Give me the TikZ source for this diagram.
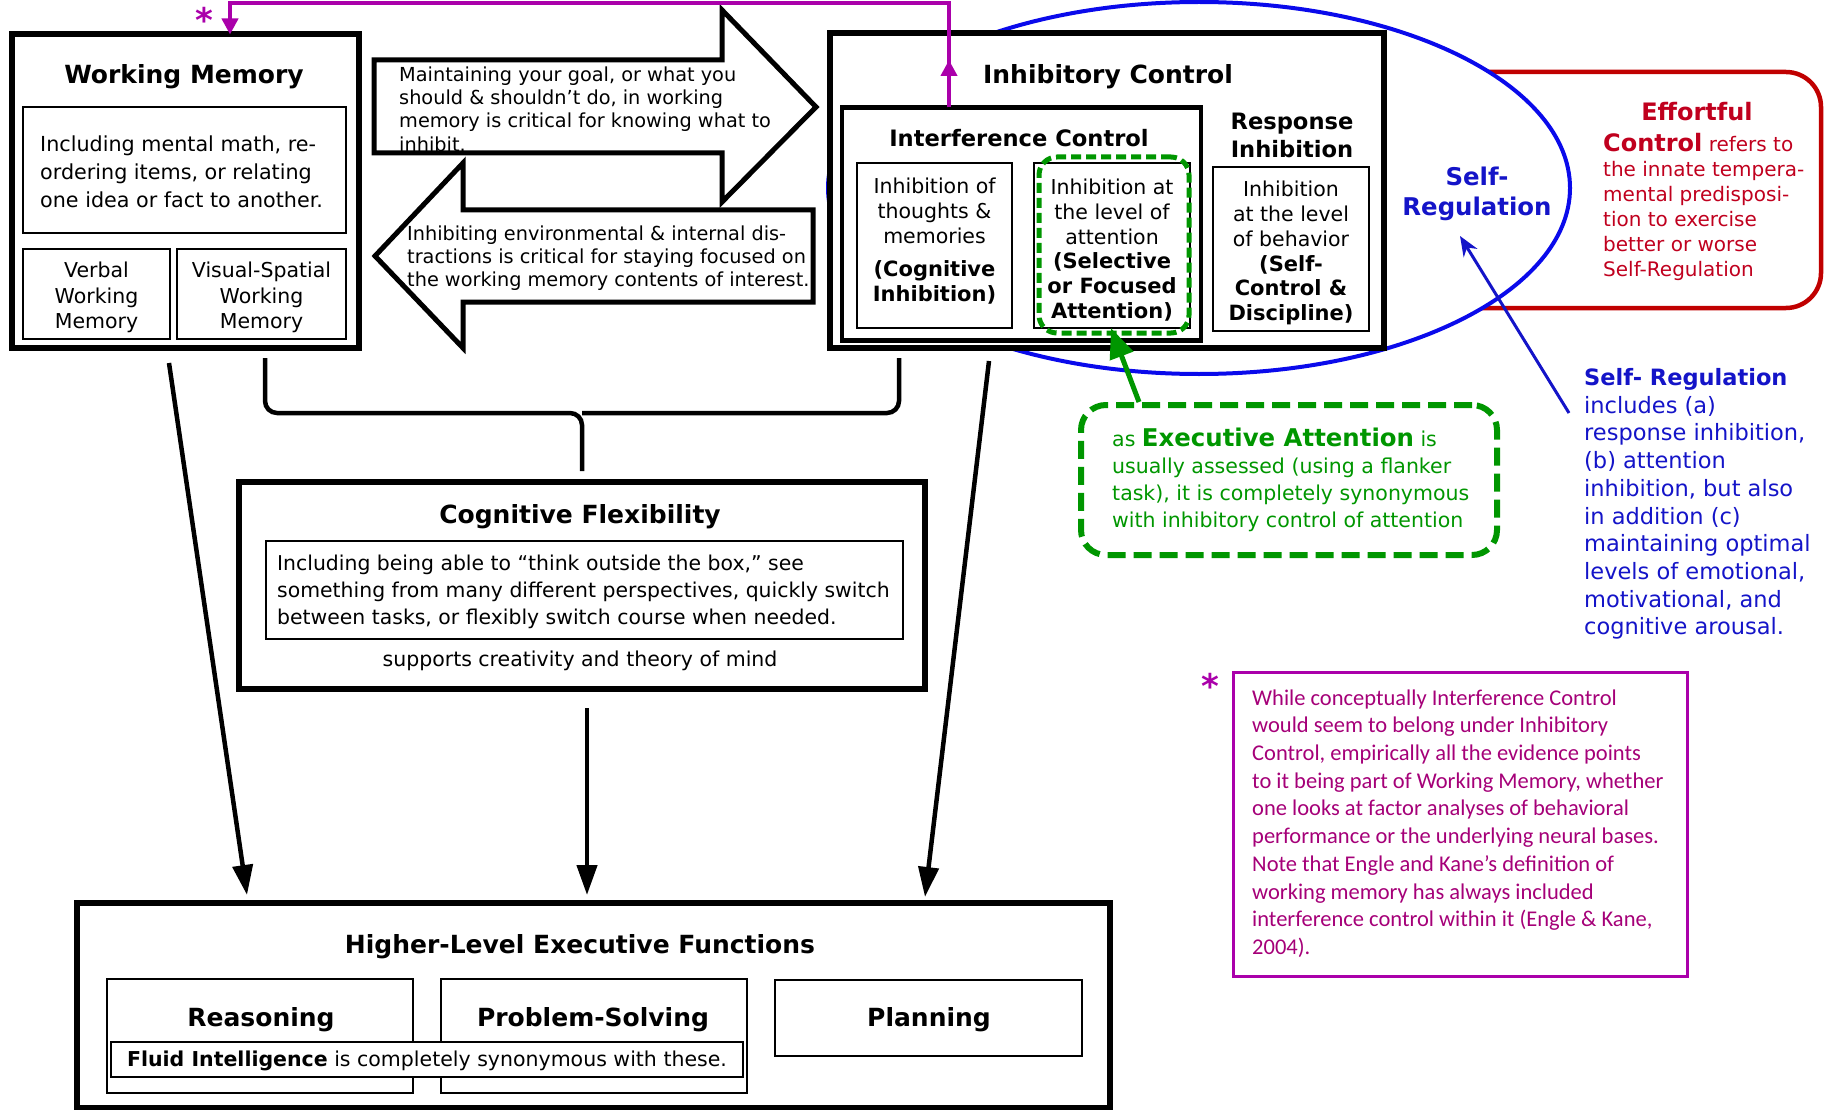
\documentclass[tikz,border=0pt]{standalone}
\usepackage{fontspec}
\setmainfont{DejaVu Sans}
\newfontfamily\calibfont{Carlito}
\usetikzlibrary{shapes.geometric,arrows.meta}
\definecolor{magline}{RGB}{170,0,170}
\definecolor{magtext}{RGB}{165,0,120}
\definecolor{effred}{RGB}{192,0,0}
\definecolor{efftext}{RGB}{192,0,30}
\definecolor{srblue}{RGB}{10,10,235}
\definecolor{srtext}{RGB}{20,20,200}
\definecolor{eagreen}{RGB}{0,150,0}
\newcommand\fsz[2]{\fontsize{#1pt}{#2pt}\selectfont}
\begin{document}
\begin{tikzpicture}[x=1pt,y=-1pt,
  bigbox/.style={draw, line width=6, fill=white, inner sep=0, outer sep=0},
  midbox/.style={draw, line width=4.5, fill=white, inner sep=0, outer sep=0},
  thinbox/.style={draw, line width=2, fill=white, inner sep=0, outer sep=0},
  ttl/.style={font=\bfseries\fsz{25}{30}, inner sep=0},
  subttl/.style={font=\bfseries\fsz{22.6}{28}, inner sep=0},
  txt/.style={font=\fsz{20.5}{25}, inner sep=0},
  blockarrow/.style={draw, line width=5, fill=white, line join=miter},
  conn/.style={draw, line width=4.5, -{Triangle[length=30,width=20]}},
]
\useasboundingbox (0,0) rectangle (1825,1110);

% Effortful Control box (behind ellipse)
\node[draw=effred, line width=4.5, rounded corners=35, minimum width=420, minimum height=236, inner sep=0] (efc) at (1611,190) {};
% Self-Regulation ellipse
\node[ellipse, draw=srblue, line width=4, fill=white, minimum width=742, minimum height=372, inner sep=0] (srell) at (1199,188) {};

% Inhibitory Control
\node[bigbox, minimum width=554, minimum height=315] (ic) at (1107,190.5) {};
\node[ttl] (ict) at (1108,77) {Inhibitory Control};
\node[midbox, minimum width=359, minimum height=233] (intc) at (1021.5,224) {};
\node[subttl] (intct) at (1019,138) {Interference Control};
\node[thinbox, minimum width=155, minimum height=165] (cog) at (934.5,245.5) {};
\node[thinbox, minimum width=156, minimum height=165] (sel) at (1112,245.5) {};
\node[draw=eagreen, line width=5, dash pattern=on 10 off 5, rounded corners=18, minimum width=150, minimum height=176, inner sep=0] (selg) at (1114,245) {};
\node[thinbox, minimum width=156, minimum height=164] (resp) at (1291,249) {};
\node[subttl, align=center] (respt) at (1292,135) {Response\\Inhibition};
\node[txt, align=center] (cogt) at (934.5,241.5) {Inhibition of\\thoughts \&\\memories\\[8pt]\textbf{\fsz{21}{25}(Cognitive}\\\textbf{\fsz{21}{25}Inhibition)}};
\node[txt, align=center, font=\fsz{20.5}{24.8}] (selt) at (1112,250) {Inhibition at\\the level of\\attention\\\textbf{\fsz{21}{24.8}(Selective}\\\textbf{\fsz{21}{24.8}or Focused}\\\textbf{\fsz{21}{24.8}Attention)}};
\node[txt, align=center, font=\fsz{20.5}{24.8}] (respx) at (1291,253) {Inhibition\\at the level\\of behavior\\\textbf{\fsz{21}{24.8}(Self-}\\\textbf{\fsz{21}{24.8}Control \&}\\\textbf{\fsz{21}{24.8}Discipline)}};

% Self-Regulation label
\node[font=\bfseries\fsz{24.4}{30}, text=srtext, align=center, inner sep=0] (srl) at (1477,194) {Self-\\Regulation};

% Effortful Control text
\node[font=\bfseries\fsz{24}{25}, text=efftext, inner sep=0] (efft) at (1697,112) {Effortful};
\node[font=\fsz{20}{25}, text=efftext, align=left, anchor=west, inner sep=0] (effx) at (1603,207) {\textbf{\fsz{24}{25}Control} refers to\\the innate tempera-\\mental predisposi-\\tion to exercise\\better or worse\\Self-Regulation};

% Working Memory
\node[bigbox, minimum width=347, minimum height=313] (wm) at (185,191) {};
\node[ttl] (wmt) at (184,77) {Working Memory};
\node[thinbox, minimum width=323, minimum height=126] (wm1) at (184.5,170) {};
\node[txt, align=left, anchor=west, font=\fsz{20.7}{28}] (wm1t) at (40,172) {Including mental math, re-\\ordering items, or relating\\one idea or fact to another.};
\node[thinbox, minimum width=147, minimum height=90] (vwm) at (96.5,294) {};
\node[thinbox, minimum width=169, minimum height=90] (vswm) at (261.5,294) {};
\node[txt, align=center, font=\fsz{20.5}{25.6}] (vwmt) at (96.5,297.5) {Verbal\\Working\\Memory};
\node[txt, align=center, font=\fsz{20.5}{25.6}] (vswmt) at (261.5,297.5) {Visual-Spatial\\Working\\Memory};

% Block arrows
\draw[blockarrow] (374,60) -- (722,60) -- (722,10) -- (816,107) -- (722,202) -- (722,153) -- (374,153) -- cycle;
\draw[blockarrow] (813,210) -- (463,210) -- (463,163) -- (375,256) -- (463,348) -- (463,302) -- (813,302) -- cycle;
\node[align=left, anchor=west, font=\fsz{19.3}{23.3}, inner sep=0] (upt) at (399,109) {Maintaining your goal, or what you\\should \& shouldn’t do, in working\\memory is critical for knowing what to\\inhibit.};
\node[align=left, anchor=west, font=\fsz{19.3}{23.3}, inner sep=0] (lot) at (407,258) {Inhibiting environmental \& internal dis-\\tractions is critical for staying focused on\\the working memory contents of interest.};

% Cognitive Flexibility
\node[bigbox, minimum width=686, minimum height=207] (cf) at (581.5,585.5) {};
\node[ttl] (cft) at (580,517) {Cognitive Flexibility};
\node[thinbox, minimum width=637, minimum height=98] (cf1) at (584.5,590) {};
\node[txt, align=left, anchor=west, font=\fsz{20.4}{27.2}] (cf1t) at (277,592) {Including being able to “think outside the box,” see\\something from many different perspectives, quickly switch\\between tasks, or flexibly switch course when needed.};
\node[txt] (cfs) at (580,661) {supports creativity and theory of mind};

% Higher-Level Executive Functions
\node[bigbox, minimum width=1033, minimum height=205] (hl) at (593.5,1005) {};
\node[ttl] (hlt) at (580,947) {Higher-Level Executive Functions};
\node[thinbox, minimum width=306, minimum height=114] (reas) at (260,1036) {};
\node[thinbox, minimum width=306, minimum height=114] (prob) at (594,1036) {};
\node[thinbox, minimum width=307, minimum height=76] (plan) at (928.5,1018) {};
\node[ttl] (reast) at (261,1020) {Reasoning};
\node[ttl] (probt) at (593,1020) {Problem-Solving};
\node[ttl] (plant) at (929,1020) {Planning};
\node[thinbox, minimum width=632, minimum height=35] (fluid) at (427,1059.5) {};
\node[txt] (fluidt) at (427,1061) {\textbf{Fluid Intelligence} is completely synonymous with these.};

% Brace from WM and IC to CF
\coordinate (brl) at (265,358);
\coordinate (brr) at (899,358);
\coordinate (brm) at (582,413);
\coordinate (brs) at (582,471);
\draw[line width=4.5, rounded corners=12] (brl) -- (brl |- brm) -- (brm) -- (brs);
\draw[line width=4.5, rounded corners=12] (brr) -- (brr |- brm) -- (brm);

% Arrows to Higher-Level EF
\coordinate (a1s) at (169,363);
\coordinate (a1e) at (247,895);
\coordinate (a2s) at (587,708);
\coordinate (a2e) at (587,895);
\coordinate (a3s) at (989,361);
\coordinate (a3e) at (925,897);
\draw[conn] (a1s) -- (a1e);
\draw[conn] (a2s) -- (a2e);
\draw[conn] (a3s) -- (a3e);

% Executive Attention box
\node[draw=eagreen, line width=6, dash pattern=on 18 off 8, rounded corners=25, minimum width=416, minimum height=150, inner sep=0] (ea) at (1289,480) {};
\node[align=left, anchor=west, font=\fsz{20.5}{27}, text=eagreen, inner sep=0] (eat) at (1112,479.5) {as \textbf{\fsz{24.4}{27}Executive Attention} is\\usually assessed (using a flanker\\task), it is completely synonymous\\with inhibitory control of attention};
\coordinate (gas) at (1139,402);
\draw[eagreen, line width=5, -{Triangle[length=30,width=24]}] (gas) -- (sel.south -| 1111,0);

% Self-Regulation note
\node[align=left, anchor=west, font=\fsz{22.5}{27.7}, text=srtext, inner sep=0] (srn) at (1584,504) {\textbf{Self- Regulation}\\includes (a)\\response inhibition,\\(b) attention\\inhibition, but also\\in addition (c)\\maintaining optimal\\levels of emotional,\\motivational, and\\cognitive arousal.};
\coordinate (bas) at (1569,413);
\draw[srtext, line width=3, -{Stealth[length=20,width=16]}] (bas) -- (1460,236);

% Footnote
\node[draw=magline, line width=3, minimum width=454, minimum height=304, inner sep=0] (fn) at (1460,824) {};
\node[align=left, anchor=west, font=\calibfont\fsz{22.5}{27.7}, text=magtext, inner sep=0] (fnt) at (1252,823.5) {While conceptually Interference Control\\would seem to belong under Inhibitory\\Control, empirically all the evidence points\\to it being part of Working Memory, whether\\one looks at factor analyses of behavioral\\performance or the underlying neural bases.\\Note that Engle and Kane’s definition of\\working memory has always included\\interference control within it (Engle \& Kane,\\2004).};
\node[font=\bfseries\fsz{34}{34}, text=magline, inner sep=0] (ast2) at (1210,686) {*};

% Magenta connector
\coordinate (mtr) at (949,3);
\coordinate (mtl) at (230,3);
\draw[magline, line width=4, -{Triangle[length=16,width=16]}] (intc.north -| mtr) -- (mtr) -- (mtl) -- (wm.north -| mtl);
\draw[magline, line width=4, -{Triangle[length=16,width=16]}] (intc.north -| mtr) -- (949,60);
\node[font=\bfseries\fsz{34}{34}, text=magline, inner sep=0] (ast1) at (204,20) {*};
\end{tikzpicture}
\end{document}
